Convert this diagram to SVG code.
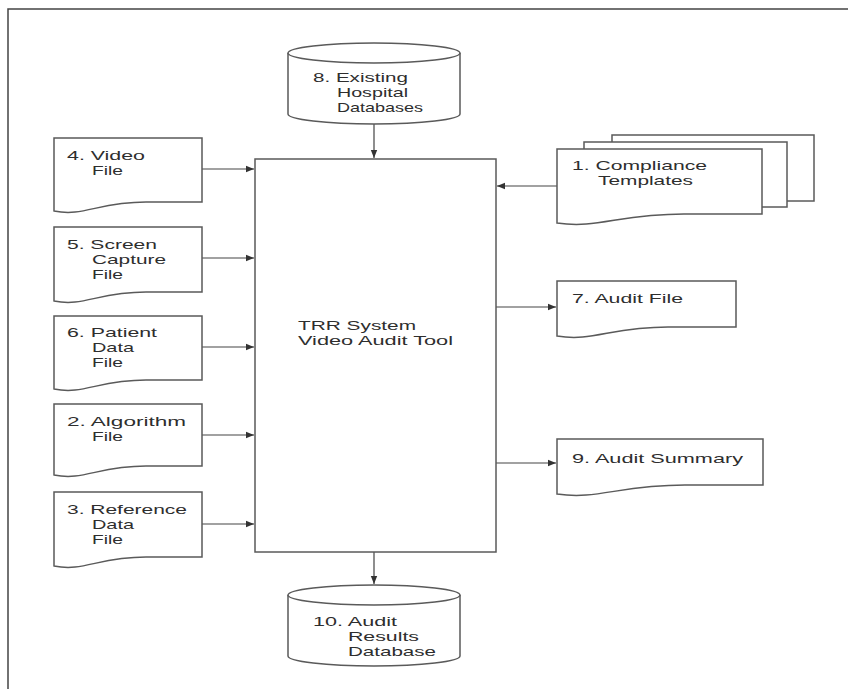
<svg xmlns="http://www.w3.org/2000/svg" width="848" height="689" viewBox="0 0 848 689">
<style>
.shape{fill:#fff;stroke:#5a5a5a;stroke-width:1.5}
.frame{fill:none;stroke:#444;stroke-width:1.5}
.conn{fill:none;stroke:#444;stroke-width:1.2}
text{font-family:"Liberation Sans",Arial,sans-serif;font-size:13px;fill:#2e2e2e}
</style>
<defs>
<marker id="ah" viewBox="0 0 10 10" refX="10" refY="5" markerWidth="8" markerHeight="8" markerUnits="userSpaceOnUse" orient="auto">
<path d="M0,1 L10,5 L0,9 Z" fill="#333"/>
</marker>
</defs>
<rect width="848" height="689" fill="#fff"/>
<path class="frame" d="M8,689 V9 H848"/>

<g id="connectors">
<path class="conn" d="M202,169 H254" marker-end="url(#ah)"/>
<path class="conn" d="M202,258 H254" marker-end="url(#ah)"/>
<path class="conn" d="M202,347 H254" marker-end="url(#ah)"/>
<path class="conn" d="M202,435 H254" marker-end="url(#ah)"/>
<path class="conn" d="M202,524 H254" marker-end="url(#ah)"/>
<path class="conn" d="M374,124 V158" marker-end="url(#ah)"/>
<path class="conn" d="M557,186 H497" marker-end="url(#ah)"/>
<path class="conn" d="M496,307 H556" marker-end="url(#ah)"/>
<path class="conn" d="M496,463 H556" marker-end="url(#ah)"/>
<path class="conn" d="M374,552 V584" marker-end="url(#ah)"/>
</g>

<g id="main">
<rect class="shape" x="255" y="159" width="241" height="393"/>
<text x="298" y="330" textLength="118" lengthAdjust="spacingAndGlyphs">TRR System</text>
<text x="298" y="345" textLength="155" lengthAdjust="spacingAndGlyphs">Video Audit Tool</text>
</g>

<g id="node8">
<path class="shape" d="M288,53 V114 A86,10 0 0 0 460,114 V53"/>
<ellipse class="shape" cx="374" cy="53" rx="86" ry="10"/>
<text x="313" y="82" textLength="95" lengthAdjust="spacingAndGlyphs">8. Existing</text>
<text x="337" y="97" textLength="71" lengthAdjust="spacingAndGlyphs">Hospital</text>
<text x="337" y="112" textLength="86" lengthAdjust="spacingAndGlyphs">Databases</text>
</g>

<g id="node4">
<path class="shape" d="M54,138 H202 V202 H146 C98,202 84,217 54,211 Z"/>
<text x="67" y="160" textLength="78" lengthAdjust="spacingAndGlyphs">4. Video</text>
<text x="92" y="175" textLength="31" lengthAdjust="spacingAndGlyphs">File</text>
</g>

<g id="node5">
<path class="shape" d="M54,227 H202 V292 H146 C98,292 84,307 54,301 Z"/>
<text x="67" y="249" textLength="90" lengthAdjust="spacingAndGlyphs">5. Screen</text>
<text x="92" y="264" textLength="74" lengthAdjust="spacingAndGlyphs">Capture</text>
<text x="92" y="279" textLength="31" lengthAdjust="spacingAndGlyphs">File</text>
</g>

<g id="node6">
<path class="shape" d="M54,316 H202 V380 H146 C98,380 84,395 54,389 Z"/>
<text x="67" y="337" textLength="90" lengthAdjust="spacingAndGlyphs">6. Patient</text>
<text x="92" y="352" textLength="42" lengthAdjust="spacingAndGlyphs">Data</text>
<text x="92" y="367" textLength="31" lengthAdjust="spacingAndGlyphs">File</text>
</g>

<g id="node2">
<path class="shape" d="M54,404 H202 V466 H146 C98,466 84,481 54,475 Z"/>
<text x="67" y="426" textLength="119" lengthAdjust="spacingAndGlyphs">2. Algorithm</text>
<text x="92" y="441" textLength="31" lengthAdjust="spacingAndGlyphs">File</text>
</g>

<g id="node3">
<path class="shape" d="M54,492 H202 V557 H146 C98,557 84,572 54,566 Z"/>
<text x="67" y="514" textLength="120" lengthAdjust="spacingAndGlyphs">3. Reference</text>
<text x="92" y="529" textLength="42" lengthAdjust="spacingAndGlyphs">Data</text>
<text x="92" y="544" textLength="31" lengthAdjust="spacingAndGlyphs">File</text>
</g>

<g id="node1">
<rect class="shape" x="612" y="135" width="202" height="66"/>
<rect class="shape" x="584" y="142" width="203" height="65"/>
<path class="shape" d="M557,149 H762 V214 H684 C619,214 598,229 557,223 Z"/>
<text x="572" y="170" textLength="135" lengthAdjust="spacingAndGlyphs">1. Compliance</text>
<text x="598" y="185" textLength="95" lengthAdjust="spacingAndGlyphs">Templates</text>
</g>

<g id="node7">
<path class="shape" d="M557,281 H736 V327 H668 C611,327 593,342 557,336 Z"/>
<text x="572" y="303" textLength="111" lengthAdjust="spacingAndGlyphs">7. Audit File</text>
</g>

<g id="node9">
<path class="shape" d="M557,439 H763 V485 H685 C619,485 598,500 557,494 Z"/>
<text x="572" y="463" textLength="171" lengthAdjust="spacingAndGlyphs">9. Audit Summary</text>
</g>

<g id="node10">
<path class="shape" d="M288,595 V656 A86,10 0 0 0 460,656 V595"/>
<ellipse class="shape" cx="374" cy="595" rx="86" ry="10"/>
<text x="313" y="626" textLength="84" lengthAdjust="spacingAndGlyphs">10. Audit</text>
<text x="348" y="641" textLength="71" lengthAdjust="spacingAndGlyphs">Results</text>
<text x="348" y="656" textLength="88" lengthAdjust="spacingAndGlyphs">Database</text>
</g>
</svg>
